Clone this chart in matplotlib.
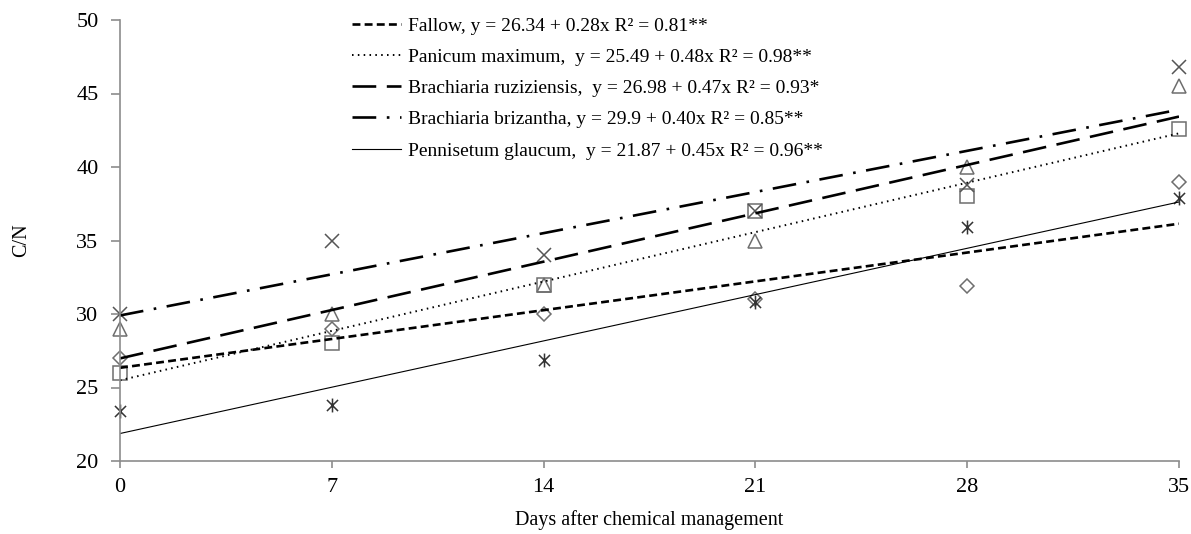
import numpy as np
import matplotlib.pyplot as plt
from matplotlib.path import Path

days = [0, 7, 14, 21, 28, 35]

fallow = [27.0, 29.0, 30.0, 31.0, 31.9, 39.0]
panicum = [26.0, 28.0, 32.0, 37.0, 38.0, 42.6]
ruziziensis = [29.0, 30.0, 32.0, 35.0, 40.0, 45.5]
brizantha = [30.0, 35.0, 34.0, 37.0, 38.8, 46.8]
pennisetum = [23.4, 23.8, 26.9, 30.8, 35.9, 37.9]

names = ['Fallow,', 'Panicum maximum, ', 'Brachiaria ruziziensis, ',
         'Brachiaria brizantha,', 'Pennisetum glaucum, ']
intercepts = [26.34, 25.49, 26.98, 29.9, 21.87]
slopes = [0.28, 0.48, 0.47, 0.40, 0.45]
r2 = ['0.81**', '0.98**', '0.93*', '0.85**', '0.96**']

plt.rcParams['font.family'] = ['Liberation Serif', 'DejaVu Serif']

# asterisk marker like the spreadsheet one: an x with a vertical bar
star = Path([(-1, -1), (1, 1), (-1, 1), (1, -1), (0, -1.25), (0, 1.25)],
            [Path.MOVETO, Path.LINETO] * 3)

series = [fallow, panicum, ruziziensis, brizantha, pennisetum]
markers = ['D', 's', '^', 'x', star]
msizes = [7.5, 9.5, 9.5, 9.5, 10]
mcolors = ['#6e6e6e', '#6e6e6e', '#6e6e6e', '#555555', '#333333']
styles = [(0, (3, 1.6)), (0, (0.8, 2.2)), (0, (9, 4)), (0, (9, 4, 1, 4)), '-']
widths = [1.9, 1.4, 1.9, 1.9, 0.8]

fig = plt.figure(figsize=(11.91, 5.34), dpi=100)
ax = fig.add_axes([120 / 1191, 1 - 461 / 534, 1059 / 1191, 441 / 534])

xs = np.array([0, 35])
for i in range(5):
    ax.plot(days, series[i], linestyle='none', marker=markers[i],
            markersize=msizes[i], markerfacecolor='none',
            markeredgecolor=mcolors[i], markeredgewidth=1.1, clip_on=False)
for i in range(5):
    label = f'{names[i]} y = {intercepts[i]} + {slopes[i]:.2f}x R\u00b2 = {r2[i]}'
    ax.plot(xs, intercepts[i] + slopes[i] * xs, color='black',
            linestyle=styles[i], linewidth=widths[i], label=label)

ax.set_xlim(0, 35)
ax.set_ylim(20, 50)
ax.set_xticks(days)
ax.set_yticks(range(20, 51, 5))
for s in ['top', 'right']:
    ax.spines[s].set_visible(False)
for s in ['left', 'bottom']:
    ax.spines[s].set_color('#8c8c8c')
    ax.spines[s].set_linewidth(1.2)
ax.tick_params(colors='#8c8c8c', labelcolor='black', labelsize=16,
               direction='out', width=1.2)
ax.tick_params(axis='y', length=6.5, pad=9)
ax.tick_params(axis='x', length=5, pad=7)
ax.set_xlabel('Days after chemical management', fontsize=14.5)
ax.set_ylabel('C/N', fontsize=14.5)
ax.xaxis.set_label_coords(0.5, (461 - 510) / 441)
ax.yaxis.set_label_coords((31 - 120) / 1059, 0.5)

ax.legend(loc='upper left', bbox_to_anchor=(352 / 1191, 1 - 17 / 534),
          bbox_transform=fig.transFigure, frameon=False, fontsize=14,
          handlelength=2.5, handletextpad=0.4, labelspacing=0.7,
          borderpad=0, borderaxespad=0)

fig.savefig('out.png', dpi=100)
